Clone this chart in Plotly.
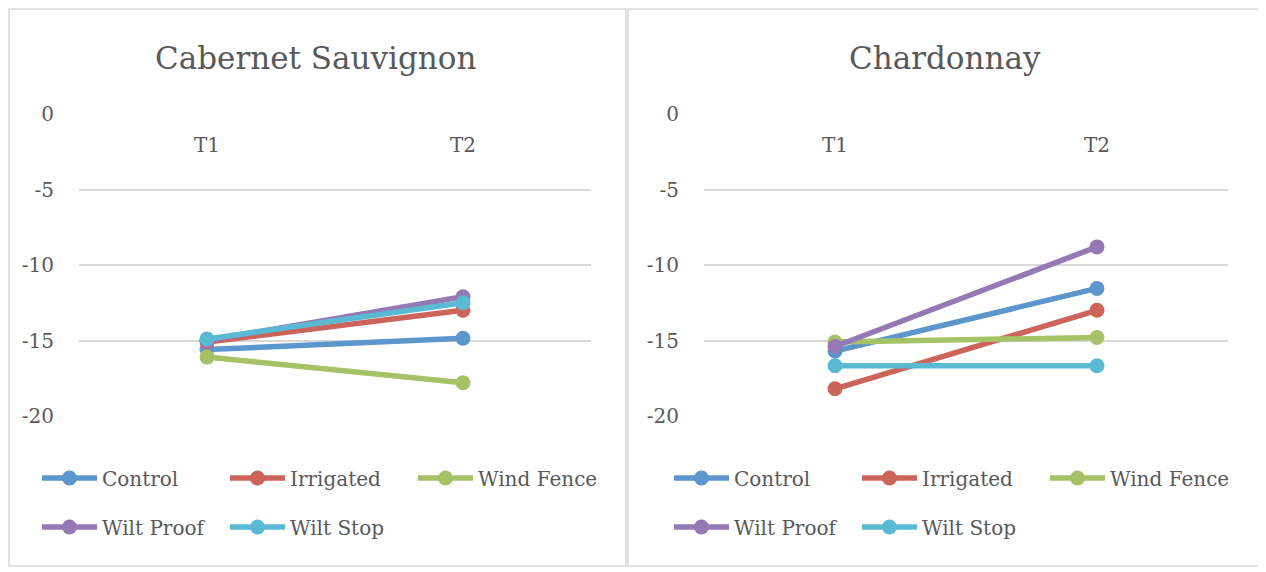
import plotly.graph_objects as go

times = ["T1", "T2"]
series = ["Control", "Irrigated", "Wind Fence", "Wilt Proof", "Wilt Stop"]
colors = ["#5B96CC", "#CC6459", "#A5C266", "#9479B4", "#5BBAD3"]

cabernet_control = [-15.6, -14.85]
cabernet_irrigated = [-15.1, -13.0]
cabernet_wind_fence = [-16.1, -17.8]
cabernet_wilt_proof = [-15.0, -12.1]
cabernet_wilt_stop = [-14.9, -12.5]

chardonnay_control = [-15.7, -11.55]
chardonnay_irrigated = [-18.2, -13.0]
chardonnay_wind_fence = [-15.1, -14.8]
chardonnay_wilt_proof = [-15.4, -8.8]
chardonnay_wilt_stop = [-16.67, -16.67]

y_ticks = [0, -5, -10, -15, -20]
y_tick_text = ["0", "-5", "-10", "-15", "-20"]

cabernet = [cabernet_control, cabernet_irrigated, cabernet_wind_fence,
            cabernet_wilt_proof, cabernet_wilt_stop]
chardonnay = [chardonnay_control, chardonnay_irrigated, chardonnay_wind_fence,
              chardonnay_wilt_proof, chardonnay_wilt_stop]

# page body has an 8px margin, so the figure is shrunk by that amount
# and all positions below are given in window pixels
OFF = 8
W, H = 1266 - OFF, 572 - OFF
font_family = "DejaVu Serif, Liberation Serif, serif"
text_color = "#595959"
grid_color = "#D9D9D9"

fig = go.Figure()

for i, name in enumerate(series):
    # first 3 series on row one of each legend, the rest on row two
    left_legend = "legend" if i < 3 else "legend2"
    right_legend = "legend3" if i < 3 else "legend4"
    fig.add_trace(go.Scatter(
        x=times, y=cabernet[i], name=name, mode="lines+markers",
        line=dict(color=colors[i], width=5.5), marker=dict(size=15, color=colors[i]),
        xaxis="x", yaxis="y", legend=left_legend,
    ))
    fig.add_trace(go.Scatter(
        x=times, y=chardonnay[i], name=name, mode="lines+markers",
        line=dict(color=colors[i], width=5.5), marker=dict(size=15, color=colors[i]),
        xaxis="x2", yaxis="y2", legend=right_legend,
    ))


def px_x(p):
    return (p - OFF) / W


def px_y(p):
    return 1 - (p - OFF) / H


xaxis_style = dict(
    type="category", range=[-0.5, 1.5], side="top", ticklabelposition="inside",
    ticks="", showgrid=False, showline=False, zeroline=False, automargin=False,
    tickfont=dict(size=20, color=text_color, family=font_family),
    ticklabelstandoff=21, ticklabeloverflow="allow", fixedrange=True,
)
yaxis_style = dict(
    range=[-20, 0], tickvals=y_ticks, ticktext=y_tick_text, ticks="",
    showgrid=True, gridcolor=grid_color, gridwidth=1.5, zeroline=False,
    showline=False, ticklabelstandoff=24, automargin=False, ticklabeloverflow="allow",
    tickfont=dict(size=20, color=text_color, family=font_family),
)

legend_style = dict(
    orientation="h", xanchor="left", yanchor="middle", entrywidth=118,
    font=dict(size=20, color=text_color, family=font_family),
    bgcolor="rgba(0,0,0,0)", itemwidth=55, tracegroupgap=0,
)

fig.update_layout(
    width=W, height=H,
    margin=dict(l=0, r=0, t=0, b=0, autoexpand=False),
    paper_bgcolor="white", plot_bgcolor="white",
    xaxis=dict(domain=[px_x(79), px_x(591)], anchor="y", **xaxis_style),
    yaxis=dict(domain=[px_y(416), px_y(114)], anchor="x", **yaxis_style),
    xaxis2=dict(domain=[px_x(704), px_x(1228)], anchor="y2", **xaxis_style),
    yaxis2=dict(domain=[px_y(416), px_y(114)], anchor="x2", **yaxis_style),
    legend=dict(x=px_x(37), y=px_y(478), **legend_style),
    legend2=dict(x=px_x(37), y=px_y(527), **legend_style),
    legend3=dict(x=px_x(669), y=px_y(478), **legend_style),
    legend4=dict(x=px_x(669), y=px_y(527), **legend_style),
    showlegend=True,
    annotations=[
        dict(text="Cabernet Sauvignon", x=px_x(315), y=px_y(58), xref="paper", yref="paper",
             xanchor="center", yanchor="middle", showarrow=False,
             font=dict(size=31, color=text_color, family=font_family)),
        dict(text="Chardonnay", x=px_x(945), y=px_y(58), xref="paper", yref="paper",
             xanchor="center", yanchor="middle", showarrow=False,
             font=dict(size=31, color=text_color, family=font_family)),
    ],
    shapes=[
        dict(type="rect", xref="paper", yref="paper", x0=px_x(9), x1=px_x(626),
             y0=px_y(566), y1=px_y(9), line=dict(color=grid_color, width=1.5)),
        dict(type="rect", xref="paper", yref="paper", x0=px_x(628), x1=px_x(1262),
             y0=px_y(566), y1=px_y(9), line=dict(color=grid_color, width=1.5)),
    ],
)

fig.write_html("out.html")
